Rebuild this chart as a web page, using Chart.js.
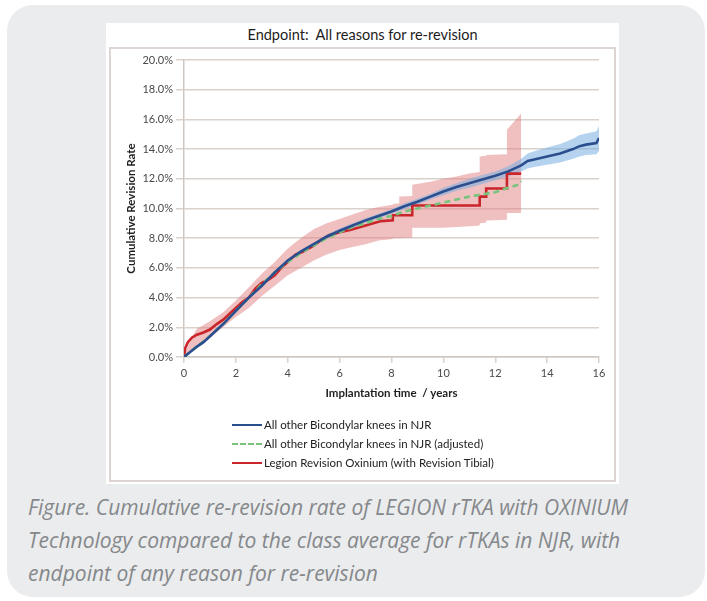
<!DOCTYPE html>
<html>
<head>
<meta charset="utf-8">
<script src="https://cdn.jsdelivr.net/npm/chart.js@4.4.1/dist/chart.umd.min.js"></script>
<style>
  html, body { margin: 0; padding: 0; background: #ffffff; }
  body { width: 707px; height: 601px; position: relative; overflow: hidden; font-family: Lato, sans-serif; }
  #card { position: absolute; left: 7px; top: 5px; width: 698px; height: 592px; background: #ebeced; border-radius: 26px; }
  #panel { position: absolute; left: 106px; top: 23px; width: 513px; height: 461px; background: #ffffff; }
  #frame { position: absolute; left: 109px; top: 47px; width: 503px; height: 431px; border: 2px solid #dcd5d1; }
  #title { position: absolute; left: 106px; top: 26px; width: 513px; text-align: center; font-size: 14.5px; line-height: 18px; color: #1c1c1c; }
  #wrap { position: absolute; left: 109px; top: 47px; width: 507px; height: 435px; }
  .leg { position: absolute; left: 232px; height: 16px; font-size: 11.5px; line-height: 16px; color: #222; }
  .leg i { position: absolute; left: 0; top: 7px; width: 30px; height: 0; border-top: 2.5px solid; }
  .leg span { position: absolute; left: 32px; top: 0; white-space: nowrap; }
  #caption { position: absolute; left: 28px; top: 491px; width: 670px; white-space: nowrap; font-style: italic; font-size: 21px; line-height: 33px; color: #85888b; font-family: "Open Sans", sans-serif; }
</style>
</head>
<body>
<div id="card"></div>
<div id="panel"></div>
<div id="frame"></div>
<div id="title">Endpoint:&nbsp; All reasons for re-revision</div>
<div id="wrap"><canvas id="kmChart" width="507" height="435"></canvas></div>
<div class="leg" style="top:417px"><i style="border-color:#2b4f8e"></i><span>All other Bicondylar knees in NJR</span></div>
<div class="leg" style="top:436px"><i style="border-color:#78c47c;border-top-style:dashed"></i><span>All other Bicondylar knees in NJR (adjusted)</span></div>
<div class="leg" style="top:455px"><i style="border-color:#c9252b"></i><span>Legion Revision Oxinium (with Revision Tibial)</span></div>
<div id="caption">Figure. Cumulative re-revision rate of LEGION rTKA with OXINIUM<br>Technology compared to the class average for rTKAs in NJR, with<br>endpoint of any reason for re-revision</div>

<script>
// ---------- data (years, cumulative %) ----------
const xTicks = [0, 2, 4, 6, 8, 10, 12, 14, 16];
const yTicks = [0, 2, 4, 6, 8, 10, 12, 14, 16, 18, 20];

// all other bicondylar knees in NJR
const njrT    = [0, 0.25, 0.5, 0.75, 1, 1.5, 2, 2.5, 3, 3.5, 4, 4.5, 5, 5.5, 6, 6.5, 7, 7.5, 8, 8.5, 9, 9.5, 10, 10.5, 11, 11.5, 12, 12.5, 13, 13.25, 13.5, 14, 14.5, 15, 15.25, 15.5, 15.9, 16];
const njrRate = [0, 0.35, 0.7, 1.0, 1.4, 2.2, 3.1, 4.0, 4.8, 5.7, 6.5, 7.1, 7.6, 8.1, 8.5, 8.85, 9.2, 9.5, 9.8, 10.15, 10.45, 10.8, 11.15, 11.45, 11.7, 11.95, 12.2, 12.5, 12.9, 13.2, 13.3, 13.5, 13.7, 14.0, 14.2, 14.3, 14.4, 14.75];
const njrLo   = [0, 0.3, 0.6, 0.9, 1.3, 2.1, 3.0, 3.9, 4.7, 5.6, 6.4, 7.0, 7.5, 7.95, 8.35, 8.7, 9.05, 9.35, 9.65, 9.95, 10.25, 10.6, 10.9, 11.2, 11.4, 11.65, 11.9, 12.15, 12.5, 12.7, 12.8, 12.95, 13.1, 13.35, 13.5, 13.6, 13.65, 13.85];
const njrHi   = [0, 0.4, 0.8, 1.1, 1.5, 2.3, 3.2, 4.1, 4.9, 5.8, 6.6, 7.2, 7.7, 8.25, 8.65, 9.0, 9.35, 9.65, 9.95, 10.35, 10.65, 11.0, 11.4, 11.7, 12.0, 12.25, 12.5, 12.85, 13.35, 13.7, 13.85, 14.1, 14.35, 14.7, 14.95, 15.05, 15.2, 15.55];

// all other bicondylar knees in NJR (adjusted)
const adjT    = [0, 0.5, 1, 1.5, 2, 2.5, 3, 3.5, 4, 4.5, 5, 5.5, 6, 6.5, 7, 7.5, 8, 8.5, 9, 9.5, 10, 10.5, 11, 11.5, 12, 12.5, 12.9, 13];
const adjRate = [0, 0.7, 1.4, 2.2, 3.1, 4.0, 4.9, 5.7, 6.4, 7.0, 7.5, 8.0, 8.4, 8.75, 9.0, 9.3, 9.5, 9.8, 10.0, 10.2, 10.4, 10.6, 10.8, 10.95, 11.1, 11.4, 11.6, 11.85];

// Legion revision Oxinium (with revision tibial); repeated times are the steps
const legT    = [0, 0.05, 0.15, 0.3, 0.5, 0.75, 1.0, 1.25, 1.5, 1.75, 2.0, 2.25, 2.5, 2.75, 3.0, 3.25, 3.5, 3.75, 4.0, 4.3, 4.6, 5.0, 5.3, 5.6, 6.0, 6.4, 6.8, 7.2, 7.6, 8.05, 8.05, 8.8, 8.8, 11.4, 11.4, 11.65, 11.65, 12.45, 12.45, 13.0];
const legRate = [0, 0.6, 1.0, 1.3, 1.5, 1.65, 1.85, 2.2, 2.5, 2.9, 3.3, 3.7, 4.0, 4.6, 5.0, 5.2, 5.5, 6.0, 6.4, 6.9, 7.1, 7.5, 7.9, 8.2, 8.4, 8.55, 8.75, 8.95, 9.15, 9.2, 9.55, 9.55, 10.2, 10.2, 10.8, 10.8, 11.35, 11.35, 12.35, 12.35];
const legBandT = [0, 0.25, 0.5, 1, 1.5, 2, 2.5, 3, 3.5, 4, 4.5, 5, 5.5, 6, 6.5, 7, 7.5, 8.05, 8.05, 8.3, 8.3, 8.8, 8.8, 9.5, 10, 10.5, 11, 11.4, 11.4, 11.65, 11.65, 12.45, 12.45, 13.0];
const legHi   = [0, 1.2, 1.9, 2.4, 3.0, 3.8, 4.7, 5.6, 6.4, 7.3, 8.0, 8.6, 9.0, 9.3, 9.6, 9.9, 10.1, 10.25, 10.3, 10.35, 10.8, 10.85, 11.6, 11.8, 12.0, 12.15, 12.35, 12.45, 13.5, 13.55, 13.6, 13.65, 15.3, 16.4];
const legLo   = [0, 0.3, 0.8, 1.3, 2.0, 2.7, 3.3, 4.1, 4.8, 5.5, 6.0, 6.5, 6.9, 7.2, 7.4, 7.6, 7.85, 7.95, 8.0, 8.0, 8.0, 8.05, 8.7, 8.7, 8.7, 8.75, 8.8, 8.85, 9.0, 9.05, 9.2, 9.25, 9.7, 9.7];

const pts = (xs, ys) => xs.map((x, i) => ({ x: x, y: ys[i] }));

const gridCol = '#d8d1cc';
const tickFont = { family: 'Lato', size: 11 };
const titleFont = { family: 'Lato', size: 11.5, weight: 'bold' };

const ctx = document.getElementById('kmChart').getContext('2d');

new Chart(ctx, {
  type: 'line',
  data: {
    datasets: [
      { label: 'NJR', data: pts(njrT, njrRate), borderColor: '#2b4f8e', borderWidth: 2.6, order: 0 },
      { label: 'NJR adjusted', data: pts(adjT, adjRate), borderColor: '#78c47c', borderWidth: 2.6, borderDash: [6, 4], order: 1 },
      { label: 'Legion', data: pts(legT, legRate), borderColor: '#c9252b', borderWidth: 2.6, order: 2 },
      { label: 'NJR hi', data: pts(njrT, njrHi), borderWidth: 0, borderColor: 'transparent', backgroundColor: 'rgba(120,175,225,0.55)', fill: { target: 4 }, order: 3 },
      { label: 'NJR lo', data: pts(njrT, njrLo), borderWidth: 0, borderColor: 'transparent', fill: false, order: 4 },
      { label: 'Legion hi', data: pts(legBandT, legHi), borderWidth: 0, borderColor: 'transparent', backgroundColor: 'rgba(226,128,128,0.5)', fill: { target: 6 }, order: 5 },
      { label: 'Legion lo', data: pts(legBandT, legLo), borderWidth: 0, borderColor: 'transparent', fill: false, order: 6 }
    ]
  },
  options: {
    responsive: false,
    animation: false,
    elements: { point: { radius: 0, hoverRadius: 0 }, line: { tension: 0 } },
    layout: { padding: { left: 0, right: 17, top: 13, bottom: 80 } },
    plugins: { legend: { display: false }, tooltip: { enabled: false } },
    scales: {
      x: {
        type: 'linear', min: 0, max: 16,
        afterFit: s => { s.height = 45; },
        afterBuildTicks: s => { s.ticks = xTicks.map(v => ({ value: v })); },
        grid: { drawOnChartArea: false, color: gridCol, tickLength: 6, lineWidth: 1.5 },
        border: { color: '#cfc7c2', width: 1.5 },
        ticks: { font: tickFont, color: '#4a4a4a', padding: 4, maxRotation: 0 },
        title: { display: true, text: 'Implantation time  / years', font: titleFont, color: '#1e1e1e', padding: { top: 0, bottom: 2 } }
      },
      y: {
        type: 'linear', min: 0, max: 20,
        afterFit: s => { s.width = 75; },
        afterBuildTicks: s => { s.ticks = yTicks.map(v => ({ value: v })); },
        grid: { color: gridCol, lineWidth: 1.5, tickLength: 8 },
        border: { color: '#cfc7c2', width: 1.5 },
        ticks: { font: tickFont, color: '#4a4a4a', padding: 3, callback: v => v.toFixed(1) + '%' },
        title: { display: true, text: 'Cumulative Revision Rate', font: titleFont, color: '#1e1e1e', padding: { top: 15, bottom: 0 } }
      }
    }
  }
});
</script>
</body>
</html>
